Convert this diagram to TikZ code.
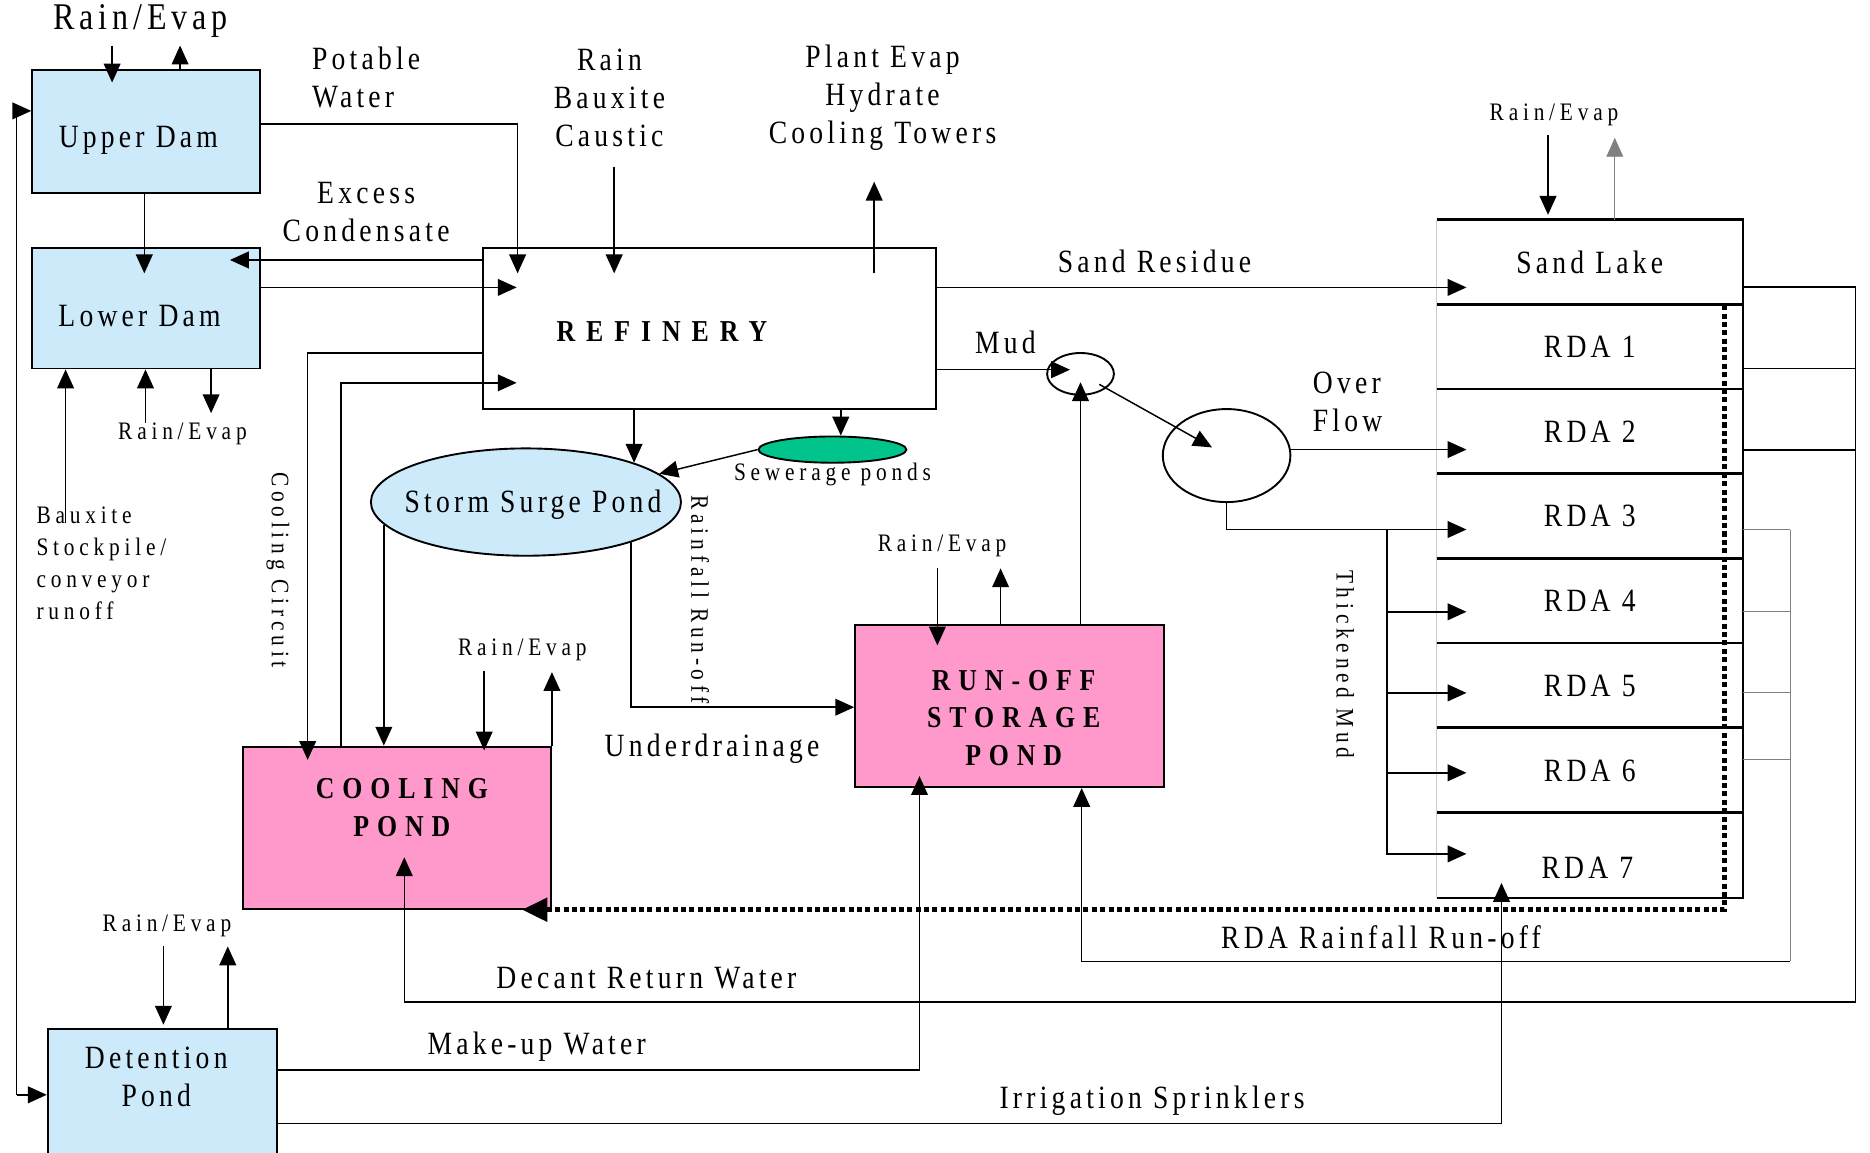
\documentclass[tikz,border=0pt]{standalone}
\usepackage{fontspec}
\setmainfont{Liberation Serif}
\newfontfamily\bigf{Liberation Serif}[FakeStretch=0.85,LetterSpace=13]
\newfontfamily\smlf{Liberation Serif}[FakeStretch=0.85,LetterSpace=19]
\newfontfamily\capf{Liberation Serif}[FakeStretch=0.85,LetterSpace=26]
\usetikzlibrary{arrows.meta,shapes.geometric}

\definecolor{damblue}{RGB}{204,234,250}
\definecolor{pondpink}{RGB}{255,153,204}
\definecolor{sewgreen}{RGB}{0,196,140}

\tikzset{
  box/.style={draw,line width=0.9pt,inner sep=0pt},
  arr/.style={-{Triangle[length=9pt,width=8pt]},line width=0.7pt},
  tipin/.style={shorten >=-#1},
  startgap/.style={shorten <=#1},
  lbl/.style={font=\bigf\fontsize{15.5}{18}\selectfont,align=center,inner sep=0pt},
  sml/.style={font=\smlf\fontsize{12}{15.3}\selectfont,align=center,inner sep=0pt},
  bld/.style={font=\capf\bfseries\fontsize{14.5}{18}\selectfont,align=center,inner sep=0pt},
  rowbox/.style={minimum width=51.2mm,minimum height=14.2mm,lbl},
  dotline/.style={line width=2.4pt,dash pattern=on 2.4pt off 1.6pt,-{Triangle[length=12pt,width=11pt]}}
}

\begin{document}
\begin{tikzpicture}[x=0.2mm,y=-0.2mm]
\useasboundingbox (0,0) rectangle (1568,966);

% boxes and ponds
\node[box,fill=damblue,minimum width=38.2mm,minimum height=20.6mm] (updam) at (122.5,110.5) {};
\node[lbl] (updtxt) at (116,118) {Upper Dam};
\node[box,fill=damblue,minimum width=38.2mm,minimum height=20.2mm] (lowdam) at (122.5,258.5) {};
\node[lbl] (ldtxt) at (117,265) {Lower Dam};
\node[box,minimum width=76mm,minimum height=27mm] (ref) at (595,275.5) {};
\node[bld] (reftxt) at (555,278) {\addfontfeatures{LetterSpace=36}REFINERY};
\node[box,ellipse,fill=damblue,minimum width=52mm,minimum height=18mm] (ssp) at (441,421) {};
\node[lbl] (ssptxt) at (447,423) {Storm Surge Pond};
\node[box,ellipse,fill=sewgreen,minimum width=24.8mm,minimum height=4.4mm] (sew) at (698,377) {};
\node[box,fill=pondpink,minimum width=51.6mm,minimum height=27.2mm] (cpond) at (333,694) {};
\node[bld] (cptxt) at (337,677) {COOLING\\POND};
\node[box,fill=pondpink,minimum width=51.8mm,minimum height=27.2mm] (rpond) at (846.5,592) {};
\node[bld] (rptxt) at (850,602) {RUN-OFF\\STORAGE\\POND};
\node[box,fill=damblue,minimum width=38.4mm,minimum height=21.4mm] (detp) at (136,916.5) {};
\node[lbl] (dettxt) at (131,903) {Detention\\Pond};
\node[box,ellipse,minimum width=11.2mm,minimum height=7mm] (smc) at (906,313.5) {};
\node[box,ellipse,minimum width=21.4mm,minimum height=15.6mm] (bigc) at (1028.5,382) {};

% sand lake and residue areas
\foreach \i/\t in {0/Sand Lake,1/RDA 1,2/RDA 2,3/RDA 3,4/RDA 4,5/RDA 5,6/RDA 6}
  \node[rowbox] (rda\i) at (1333,220+71*\i) {\t};
\node[rowbox] (rda7) at (1333,717) {};
\node[lbl] (rda7txt) at (1331,728) {RDA 7};
\draw[gray!40] (rda0.north west) -- (rda7.south west);
\draw[line width=1.2pt] (rda0.north west) -- (rda0.north east) -- (rda7.south east) -- (rda7.south west);
\foreach \i in {1,...,7}
  \draw[line width=1.2pt] (rda\i.north west) -- (rda\i.north east);

% upper dam
\node[lbl,font=\bigf\fontsize{18}{20}\selectfont] (rev1) at (118,18) {Rain/Evap};
\draw[arr,startgap=1.2mm,tipin=2.2mm] (rev1.south -| 94,0) -- (updam.north -| 94,0);
\draw[arr,shorten >=1.2mm] (updam.north -| 151,0) -- (rev1.south -| 151,0);
\node[lbl,align=left] (pot) at (307,65) {Potable\\Water};
\draw[arr,tipin=4.4mm] (updam.east |- 0,104) -| (ref.north -| 434,0);
\draw[arr,tipin=4.4mm] (updam.south -| 121,0) -- (lowdam.north -| 121,0);

% refinery inputs
\node[lbl] (rbc) at (511,82) {Rain\\Bauxite\\Caustic};
\draw[arr,startgap=3.3mm,tipin=4.4mm] (rbc.south -| 515,0) -- (ref.north -| 515,0);
\node[lbl] (pev) at (740,82) {Plant Evap\\Hydrate\\Cooling Towers};
\draw[arr,shorten <=-4.4mm,shorten >=5.2mm] (ref.north -| 733,0) -- (pev.south -| 733,0);
\node[lbl] (exc) at (307,178) {Excess\\Condensate};
\draw[arr,tipin=5.2mm] (ref.west |- 0,218) -- (lowdam.east |- 0,218);
\draw[arr,tipin=5.8mm] (lowdam.east |- 0,241) -- (ref.west |- 0,241);

% lower dam
\node[sml,align=left] (bx) at (85,472) {Bauxite\\Stockpile/\\conveyor\\runoff};
\draw[arr,shorten <=-2.8mm] (bx.north -| 55,0) -- (lowdam.south -| 55,0);
\node[sml] (rev2) at (153,364) {Rain/Evap};
\draw[arr] (rev2.north -| 122,0) -- (lowdam.south -| 122,0);
\draw[arr,shorten >=1.6mm] (lowdam.south -| 177,0) -- (rev2.north -| 177,0);

% cooling circuit
\node[sml,rotate=-90] (cc) at (233,478) {Cooling Circuit};
\draw[arr,tipin=2.4mm] (ref.west |- 0,296) -| (cpond.north -| 258,0);
\draw[arr,tipin=5.8mm] (cpond.north -| 286,0) |- (ref.west |- 0,321);

% left return line
\coordinate (lp) at (14,918);
\draw[arr] (lp) |- (updam.west |- 0,93);
\draw[arr] (lp) -- (detp.west |- lp);

% storm surge and sewerage
\draw[arr] (ref.south -| ssp.20) -- (ssp.20);
\draw[arr] (ref.south -| 705,0) -- (sew.north -| 705,0);
\node[sml] (sewtxt) at (698,398) {Sewerage ponds};
\draw[arr] (sew.west) -- (ssp.12);
\draw[arr] (ssp.189) -- (cpond.north -| ssp.189);
\node[sml,rotate=-90] (rro) at (587,503) {Rainfall Run-off};
\draw[arr] (ssp.339) |- (rpond.west |- 0,593);
\node[lbl] (und) at (597,628) {Underdrainage};

% pond rain/evap
\node[sml] (rev3) at (438,545) {Rain/Evap};
\draw[arr,startgap=1.6mm,tipin=0.8mm] (rev3.south -| 406,0) -- (cpond.north -| 406,0);
\draw[arr,shorten >=1.8mm] (cpond.north east) -- (rev3.south -| cpond.east);
\node[sml] (rev4) at (790,458) {Rain/Evap};
\draw[arr,startgap=1.8mm,tipin=3.6mm] (rev4.south -| 786,0) -- (rpond.north -| 786,0);
\draw[arr,shorten >=1.8mm] (rpond.north -| 839,0) -- (rev4.south -| 839,0);

% mud and thickeners
\node[lbl] (mud) at (843,287) {Mud};
\draw[arr,tipin=4mm] (ref.east |- 0,310) -- (smc.west |- 0,310);
\draw[arr,shorten >=1.4mm] (rpond.north -| smc.center) -- (smc.center);
\draw[arr,shorten <=3.6mm,shorten >=2.8mm] (smc.center) -- (bigc.center);
\node[lbl,align=left] (ovf) at (1130,337) {Over\\Flow};
\draw[arr,tipin=5mm] (bigc.east |- 0,377) -- (rda2.west |- 0,377);
\coordinate (tm) at (1163,444);
\draw[arr,tipin=5mm] (bigc.south) |- (rda3.west |- tm);
\foreach \i/\y in {4/513,5/581,6/648,7/716}
  \draw[arr,tipin=5mm] (tm) |- (rda\i.west |- 0,\y);
\node[sml,rotate=-90] (thk) at (1128,557) {Thickened Mud};

% sand lake
\node[lbl] (sres) at (968,219) {Sand Residue};
\draw[arr,tipin=5mm] (ref.east |- 0,241) -- (rda0.west |- 0,241);
\node[sml] (rev5) at (1303,96) {Rain/Evap};
\draw[arr,startgap=1.6mm,shorten >=0.8mm] (rev5.south -| 1298,0) -- (rda0.north -| 1298,0);
\draw[arr,gray,line width=0.4pt,shorten >=2mm] (rda0.north -| 1354,0) -- (rev5.south -| 1354,0);

% decant return water
\coordinate (dr) at (1556,241);
\foreach \y in {241,309,377}
  \draw[line width=0.9pt] (rda0.east |- 0,\y) -- (dr |- 0,\y);
\draw[arr,tipin=8.8mm] (dr) -- (dr |- 0,840) -| (cpond.south -| 339,0);
\node[lbl] (dec) at (542,820) {Decant Return Water};

% rda rainfall run-off
\coordinate (rr) at (1501,444);
\foreach \y in {444,513,581,637}
  \draw[gray,line width=0.5pt] (rda0.east |- 0,\y) -- (rr |- 0,\y);
\draw[gray,line width=0.5pt] (rr) -- (rr |- 0,806);
\draw[arr] (rr |- 0,806) -| (rpond.south -| 907,0);
\node[lbl] (rrr) at (1158,786) {RDA Rainfall Run-off};
\draw[dotline] (rda0.south -| 1446,0) |- ([xshift=-5mm]cpond.south east);

% detention pond
\node[lbl] (mkw) at (450,878) {Make-up Water};
\draw[arr,tipin=2mm] (detp.east |- 0,897) -| (rpond.south -| 771,0);
\node[lbl] (irr) at (966,923) {Irrigation Sprinklers};
\draw[arr,tipin=2.5mm] (detp.east |- 0,942) -| (rda7.south -| 1259,0);
\node[sml] (rev6) at (140,776) {Rain/Evap};
\draw[arr,startgap=1.6mm,shorten >=0.6mm] (rev6.south -| 137,0) -- (detp.north -| 137,0);
\draw[arr,shorten >=1.6mm] (detp.north -| 191,0) -- (rev6.south -| 191,0);
\end{tikzpicture}
\end{document}
